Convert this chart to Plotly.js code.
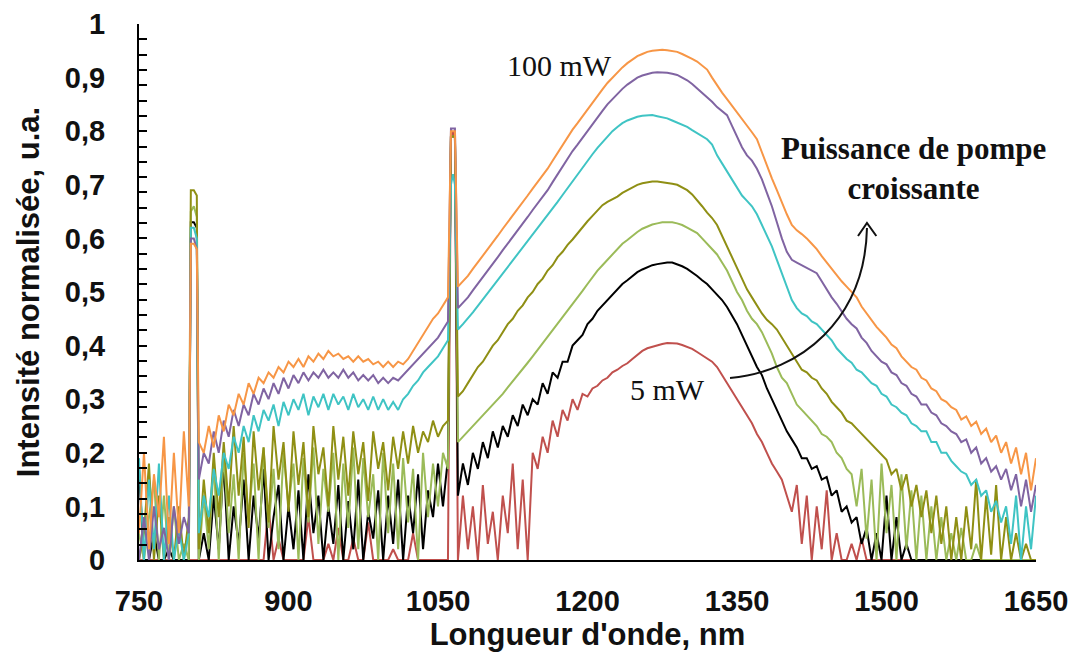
<!DOCTYPE html>
<html>
<head>
<meta charset="utf-8">
<script src="https://cdn.plot.ly/plotly-3.0.1.min.js"></script>
<style>html,body{margin:0;padding:0;background:#fff;}#chart{width:1076px;height:661px;}</style>
</head>
<body>
<div id="chart"></div>
<script>
// Wavelength grid (nm)
const wavelength = [
750,755,760,765,770,775,780,785,790,795,800,
802,805,808,
810,815,820,825,830,835,840,845,850,855,
860,865,870,875,880,885,890,895,900,905,
910,915,920,925,930,935,940,945,950,955,
960,965,970,975,980,985,990,995,1000,1005,
1010,1015,1020,1025,1030,1035,1040,1045,1050,1055,
1060,
1063,1065,1067,
1070,1075,1080,1085,1090,1095,1100,1105,1110,1115,
1120,1125,1130,1135,1140,1145,1150,1155,1160,1165,
1170,1175,1180,1185,1190,1195,1200,1205,1210,1215,
1220,1225,1230,1235,1240,1245,1250,1255,1260,1265,
1270,1275,1280,1285,1290,1295,1300,1305,1310,1315,
1320,1325,1330,1335,1340,1345,1350,1355,1360,1365,
1370,1375,1380,1385,1390,1395,1400,1405,1410,1415,
1420,1425,1430,1435,1440,1445,1450,1455,1460,1465,
1470,1475,1480,1485,1490,1495,1500,1505,1510,1515,
1520,1525,1530,1535,1540,1545,1550,1555,1560,1565,
1570,1575,1580,1585,1590,1595,1600,1605,1610,1615,
1620,1625,1630,1635,1640,1645,1650
];

// Normalised intensity, highest pump power (100 mW, orange)
const p100 = [
0.05,0.2,0.02,0.16,0.08,0.23,0.03,0.2,0.05,0.24,0.1,
0.59,0.59,0.58,
0.22,0.2,0.25,0.21,0.27,0.24,0.29,0.27,0.31,0.29,
0.33,0.31,0.34,0.33,0.35,0.34,0.36,0.35,0.37,0.36,
0.375,0.36,0.38,0.37,0.385,0.375,0.39,0.38,0.385,0.375,
0.38,0.37,0.38,0.37,0.375,0.365,0.37,0.36,0.37,0.36,
0.37,0.365,0.375,0.39,0.405,0.42,0.435,0.45,0.46,0.475,
0.49,
0.8,0.8,0.8,
0.51,0.52,0.53,0.543,0.555,0.568,0.58,0.593,0.605,0.618,
0.63,0.643,0.655,0.668,0.68,0.693,0.705,0.718,0.73,0.745,
0.76,0.775,0.79,0.803,0.815,0.828,0.84,0.853,0.865,0.878,
0.89,0.9,0.91,0.919,0.927,0.934,0.94,0.944,0.948,0.95,
0.951,0.952,0.951,0.95,0.948,0.944,0.94,0.935,0.93,0.923,
0.915,0.9,0.885,0.872,0.86,0.848,0.835,0.822,0.81,0.798,
0.785,0.76,0.735,0.712,0.69,0.667,0.645,0.625,0.615,0.608,
0.6,0.59,0.58,0.567,0.555,0.543,0.53,0.52,0.51,0.5,
0.49,0.473,0.46,0.447,0.435,0.425,0.415,0.402,0.395,0.38,
0.37,0.36,0.355,0.34,0.335,0.32,0.315,0.3,0.295,0.285,
0.28,0.262,0.268,0.25,0.258,0.235,0.245,0.22,0.232,0.2,
0.22,0.18,0.21,0.16,0.2,0.13,0.19
];

// purple
const pPurple = [
0.0,0.08,0.0,0.1,0.02,0.06,0.0,0.1,0.03,0.08,0.05,
0.6,0.6,0.58,
0.15,0.2,0.18,0.24,0.2,0.26,0.23,0.28,0.25,0.29,
0.27,0.31,0.29,0.32,0.3,0.33,0.31,0.34,0.32,0.345,
0.33,0.35,0.335,0.35,0.34,0.355,0.34,0.35,0.34,0.355,
0.34,0.35,0.335,0.345,0.335,0.345,0.33,0.34,0.33,0.34,
0.335,0.345,0.355,0.365,0.375,0.385,0.395,0.405,0.415,0.43,
0.445,
0.805,0.805,0.805,
0.47,0.48,0.49,0.503,0.515,0.528,0.54,0.553,0.565,0.578,
0.59,0.603,0.615,0.628,0.64,0.653,0.665,0.678,0.69,0.705,
0.72,0.735,0.75,0.763,0.775,0.788,0.8,0.813,0.825,0.838,
0.85,0.86,0.87,0.879,0.887,0.894,0.9,0.904,0.907,0.909,
0.91,0.91,0.909,0.907,0.905,0.9,0.895,0.888,0.88,0.872,
0.864,0.855,0.845,0.838,0.83,0.81,0.79,0.77,0.755,0.745,
0.73,0.71,0.685,0.66,0.63,0.6,0.575,0.56,0.555,0.55,
0.545,0.54,0.535,0.52,0.505,0.49,0.478,0.465,0.45,0.44,
0.432,0.415,0.405,0.39,0.38,0.37,0.365,0.35,0.345,0.33,
0.325,0.31,0.305,0.29,0.29,0.275,0.27,0.255,0.25,0.24,
0.235,0.22,0.225,0.2,0.21,0.18,0.19,0.165,0.175,0.15,
0.17,0.13,0.16,0.1,0.15,0.09,0.14
];

// cyan
const pCyan = [
0.19,0.0,0.15,0.02,0.18,0.0,0.12,0.0,0.06,0.0,0.05,
0.62,0.62,0.6,
0.05,0.12,0.08,0.17,0.12,0.2,0.17,0.23,0.2,0.25,
0.22,0.27,0.24,0.28,0.26,0.29,0.25,0.295,0.27,0.3,
0.28,0.31,0.27,0.305,0.285,0.31,0.28,0.31,0.29,0.305,
0.28,0.31,0.285,0.3,0.28,0.305,0.28,0.3,0.28,0.295,
0.28,0.3,0.31,0.325,0.335,0.35,0.36,0.37,0.38,0.395,
0.41,
0.7,0.72,0.7,
0.43,0.44,0.45,0.462,0.474,0.486,0.498,0.51,0.522,0.534,
0.546,0.558,0.57,0.582,0.594,0.606,0.618,0.63,0.642,0.655,
0.668,0.681,0.694,0.707,0.72,0.733,0.745,0.757,0.769,0.78,
0.79,0.8,0.808,0.815,0.82,0.824,0.827,0.829,0.83,0.83,
0.828,0.826,0.824,0.82,0.816,0.812,0.808,0.802,0.796,0.79,
0.785,0.775,0.755,0.74,0.725,0.71,0.695,0.68,0.67,0.66,
0.645,0.625,0.605,0.585,0.56,0.535,0.51,0.485,0.47,0.46,
0.455,0.445,0.44,0.43,0.42,0.41,0.395,0.385,0.375,0.368,
0.355,0.35,0.34,0.33,0.325,0.31,0.305,0.29,0.285,0.275,
0.27,0.255,0.25,0.24,0.24,0.22,0.22,0.2,0.2,0.185,
0.175,0.165,0.16,0.14,0.15,0.12,0.13,0.09,0.11,0.07,
0.1,0.03,0.12,0.0,0.1,0.02,0.12
];

// olive
const pOlive = [
0.0,0.05,0.18,0.0,0.12,0.0,0.08,0.0,0.1,0.0,0.08,
0.69,0.69,0.68,
0.02,0.15,0.05,0.2,0.08,0.22,0.1,0.25,0.12,0.23,
0.06,0.24,0.13,0.21,0.07,0.25,0.15,0.22,0.09,0.24,
0.14,0.22,0.08,0.25,0.16,0.21,0.1,0.25,0.15,0.23,
0.12,0.24,0.16,0.22,0.11,0.24,0.17,0.22,0.13,0.23,
0.17,0.24,0.18,0.25,0.2,0.24,0.22,0.26,0.23,0.25,
0.26,
0.79,0.79,0.79,
0.305,0.315,0.33,0.345,0.36,0.37,0.385,0.4,0.41,0.425,
0.44,0.45,0.465,0.475,0.49,0.5,0.515,0.525,0.54,0.55,
0.565,0.575,0.588,0.598,0.61,0.62,0.632,0.642,0.652,0.662,
0.668,0.673,0.678,0.685,0.69,0.695,0.7,0.703,0.705,0.706,
0.706,0.705,0.704,0.702,0.7,0.695,0.69,0.682,0.672,0.66,
0.648,0.638,0.625,0.605,0.585,0.565,0.545,0.525,0.505,0.49,
0.475,0.46,0.448,0.44,0.43,0.415,0.4,0.385,0.37,0.355,
0.35,0.34,0.335,0.32,0.31,0.295,0.285,0.275,0.26,0.255,
0.245,0.235,0.225,0.215,0.205,0.195,0.187,0.16,0.17,0.13,
0.16,0.1,0.14,0.08,0.13,0.05,0.12,0.03,0.1,0.0,
0.08,0.0,0.1,0.02,0.15,0.0,0.12,0.01,0.14,0.0,
0.08,0.0,0.05,0.0,0.03,0.0,0.0
];

// light green
const pGreen = [
0.05,0.0,0.08,0.15,0.0,0.12,0.0,0.1,0.0,0.03,0.0,
0.65,0.66,0.64,
0.0,0.12,0.02,0.18,0.0,0.2,0.05,0.16,0.0,0.2,
0.08,0.18,0.0,0.21,0.06,0.17,0.02,0.2,0.1,0.18,
0.0,0.19,0.07,0.21,0.03,0.17,0.09,0.2,0.0,0.18,
0.06,0.21,0.02,0.19,0.08,0.16,0.0,0.2,0.05,0.18,
0.02,0.19,0.07,0.17,0.0,0.2,0.08,0.18,0.1,0.2,
0.17,
0.79,0.79,0.79,
0.22,0.23,0.24,0.25,0.26,0.27,0.28,0.29,0.3,0.31,
0.322,0.333,0.345,0.356,0.368,0.38,0.392,0.405,0.418,0.43,
0.44,0.452,0.465,0.478,0.49,0.502,0.515,0.528,0.54,0.55,
0.56,0.57,0.58,0.59,0.597,0.605,0.612,0.618,0.622,0.626,
0.628,0.63,0.63,0.63,0.628,0.625,0.62,0.615,0.61,0.6,
0.59,0.58,0.57,0.555,0.54,0.52,0.5,0.485,0.465,0.45,
0.44,0.425,0.405,0.385,0.36,0.34,0.33,0.31,0.29,0.28,
0.27,0.26,0.25,0.235,0.23,0.22,0.2,0.19,0.17,0.16,
0.1,0.17,0.04,0.15,0.0,0.18,0.05,0.14,0.0,0.16,
0.02,0.13,0.0,0.12,0.0,0.1,0.0,0.08,0.0,0.05,
0.0,0.06,0.0,0.0,0.03,0.0,0.0,0.0,0.0,0.0,
0.0,0.0,0.0,0.0,0.0,0.0,0.0
];

// black
const pBlack = [
0.17,0.0,0.0,0.05,0.0,0.0,0.02,0.0,0.0,0.0,0.0,
0.63,0.63,0.62,
0.0,0.05,0.0,0.12,0.02,0.18,0.0,0.1,0.03,0.15,
0.0,0.12,0.04,0.17,0.0,0.08,0.14,0.0,0.1,0.02,
0.13,0.0,0.16,0.05,0.12,0.0,0.1,0.03,0.14,0.0,
0.11,0.02,0.15,0.0,0.09,0.04,0.13,0.0,0.12,0.03,
0.15,0.0,0.12,0.05,0.16,0.02,0.13,0.08,0.18,0.1,
0.19,
0.79,0.79,0.79,
0.12,0.18,0.14,0.2,0.17,0.22,0.19,0.24,0.21,0.25,
0.23,0.27,0.25,0.29,0.27,0.3,0.29,0.33,0.31,0.35,
0.34,0.37,0.37,0.4,0.41,0.42,0.44,0.45,0.465,0.475,
0.485,0.495,0.505,0.515,0.522,0.53,0.537,0.542,0.546,0.55,
0.552,0.554,0.555,0.555,0.552,0.548,0.543,0.537,0.53,0.522,
0.515,0.505,0.495,0.485,0.472,0.455,0.44,0.42,0.4,0.38,
0.36,0.345,0.32,0.3,0.28,0.26,0.24,0.225,0.21,0.19,
0.19,0.17,0.175,0.15,0.155,0.12,0.13,0.09,0.1,0.07,
0.08,0.03,0.06,0.0,0.05,0.0,0.12,0.0,0.08,0.0,
0.03,0.0,0.0,0.0,0.0,0.0,0.0,0.0,0.0,0.0,
0.0,0.0,0.0,0.0,0.0,0.0,0.0,0.0,0.0,0.0,
0.0,0.0,0.0,0.0,0.0,0.0,0.0
];

// 5 mW, red
const p5 = [
0.0,0.0,0.0,0.0,0.0,0.0,0.0,0.0,0.0,0.0,0.0,
0.0,0.0,0.0,
0.0,0.0,0.0,0.0,0.0,0.0,0.0,0.0,0.0,0.0,
0.0,0.0,0.0,0.0,0.1,0.0,0.04,0.0,0.0,0.0,
0.0,0.0,0.08,0.0,0.0,0.0,0.03,0.0,0.06,0.0,
0.0,0.04,0.0,0.0,0.07,0.0,0.0,0.0,0.0,0.02,
0.0,0.0,0.0,0.05,0.0,0.0,0.0,0.0,0.0,0.0,
0.0,
0.79,0.8,0.79,
0.0,0.12,0.02,0.1,0.0,0.14,0.03,0.09,0.0,0.12,
0.05,0.18,0.02,0.15,0.0,0.2,0.17,0.23,0.2,0.26,
0.23,0.28,0.26,0.3,0.28,0.31,0.305,0.32,0.325,0.335,
0.34,0.35,0.355,0.362,0.367,0.375,0.382,0.39,0.395,0.398,
0.401,0.403,0.405,0.405,0.404,0.401,0.398,0.394,0.388,0.382,
0.376,0.37,0.36,0.345,0.33,0.315,0.3,0.285,0.27,0.255,
0.235,0.22,0.2,0.18,0.165,0.15,0.12,0.09,0.14,0.03,
0.12,0.0,0.1,0.02,0.13,0.0,0.05,0.0,0.0,0.03,
0.0,0.04,0.0,0.0,0.0,0.0,0.0,0.0,0.0,0.0,
0.0,0.0,0.0,0.0,0.0,0.0,0.0,0.0,0.0,0.0,
0.0,0.0,0.0,0.0,0.0,0.0,0.0,0.0,0.0,0.0,
0.0,0.0,0.0,0.0,0.0,0.0,0.0
];

const seriesNames = ['5 mW', 'P2', 'P3', 'P4', 'P5', 'P6', '100 mW'];
const seriesData = [p5, pBlack, pGreen, pOlive, pCyan, pPurple, p100];
const seriesColors = ['#c0504d', '#000000', '#9bbb59', '#8f8f14', '#3fc4c4', '#8064a2', '#f79646'];

const xTickVals = [750, 900, 1050, 1200, 1350, 1500, 1650];
const xTickText = ['750', '900', '1050', '1200', '1350', '1500', '1650'];
const yTickVals = [0, 0.1, 0.2, 0.3, 0.4, 0.5, 0.6, 0.7, 0.8, 0.9, 1];
const yTickText = ['0', '0,1', '0,2', '0,3', '0,4', '0,5', '0,6', '0,7', '0,8', '0,9', '1'];

const traces = seriesData.map((ys, i) => ({
  type: 'scatter', mode: 'lines', x: wavelength, y: ys, name: seriesNames[i],
  line: {color: seriesColors[i], width: 2}, hoverinfo: 'x+y+name'
}));
traces.push({type: 'scatter', mode: 'lines', x: [], y: [], yaxis: 'y2', showlegend: false, hoverinfo: 'skip'});

const axisFont = {family: 'Liberation Sans, Arial, sans-serif', size: 29, color: '#111', weight: 'bold'};
const titleFont = {family: 'Liberation Sans, Arial, sans-serif', size: 31, color: '#111', weight: 'bold'};
const serif = 'Liberation Serif, Times New Roman, serif';

const layout = {
  width: 1076, height: 661,
  margin: {l: 139, r: 40, t: 24, b: 101},
  paper_bgcolor: '#fff', plot_bgcolor: '#fff',
  showlegend: false,
  xaxis: {
    range: [750, 1650], showgrid: false, zeroline: false,
    showline: true, linecolor: '#000', linewidth: 2,
    ticks: '', tickvals: xTickVals, ticktext: xTickText,
    tickfont: axisFont, ticklabelstandoff: 14,
    title: {text: "Longueur d'onde, nm", font: titleFont, standoff: 5}
  },
  yaxis: {
    range: [0, 1], showgrid: false, zeroline: false,
    showline: true, linecolor: '#000', linewidth: 2,
    ticks: '', tickvals: yTickVals, ticktext: yTickText,
    tickfont: axisFont, ticklabelstandoff: 26,
    title: {text: 'Intensité normalisée, u.a.', font: titleFont, standoff: 16}
  },
  yaxis2: {
    overlaying: 'y', side: 'left', range: [0, 1],
    tickmode: 'linear', tick0: 0, dtick: 1 / 35,
    ticks: 'inside', ticklen: 8, tickwidth: 2, tickcolor: '#000',
    showticklabels: false, showgrid: false, zeroline: false, showline: false
  },
  shapes: [
    {type: 'path', xref: 'x', yref: 'y',
     path: 'M 1343,0.3396 C 1413.2,0.3507 1478.4,0.4478 1480.4,0.6194',
     line: {color: '#111', width: 2}},
    {type: 'path', xref: 'x', yref: 'y',
     path: 'M 1471.4,0.6045 L 1480.4,0.6287 L 1489.8,0.6045',
     line: {color: '#111', width: 2}}
  ],
  annotations: [
    {x: 1172.4, y: 0.9235, xref: 'x', yref: 'y', text: '100 mW', showarrow: false,
     xanchor: 'center', yanchor: 'middle', font: {family: serif, size: 30, color: '#111'}},
    {x: 1279.8, y: 0.319, xref: 'x', yref: 'y', text: '5 mW', showarrow: false,
     xanchor: 'center', yanchor: 'middle', font: {family: serif, size: 30, color: '#111'}},
    {x: 1526.6, y: 0.7295, xref: 'x', yref: 'y', text: 'Puissance de pompe<br>croissante', showarrow: false,
     xanchor: 'center', yanchor: 'middle', align: 'center',
     font: {family: serif, size: 31, color: '#111', weight: 'bold'}}
  ]
};

Plotly.newPlot('chart', traces, layout, {displayModeBar: false, staticPlot: true});
</script>
</body>
</html>
